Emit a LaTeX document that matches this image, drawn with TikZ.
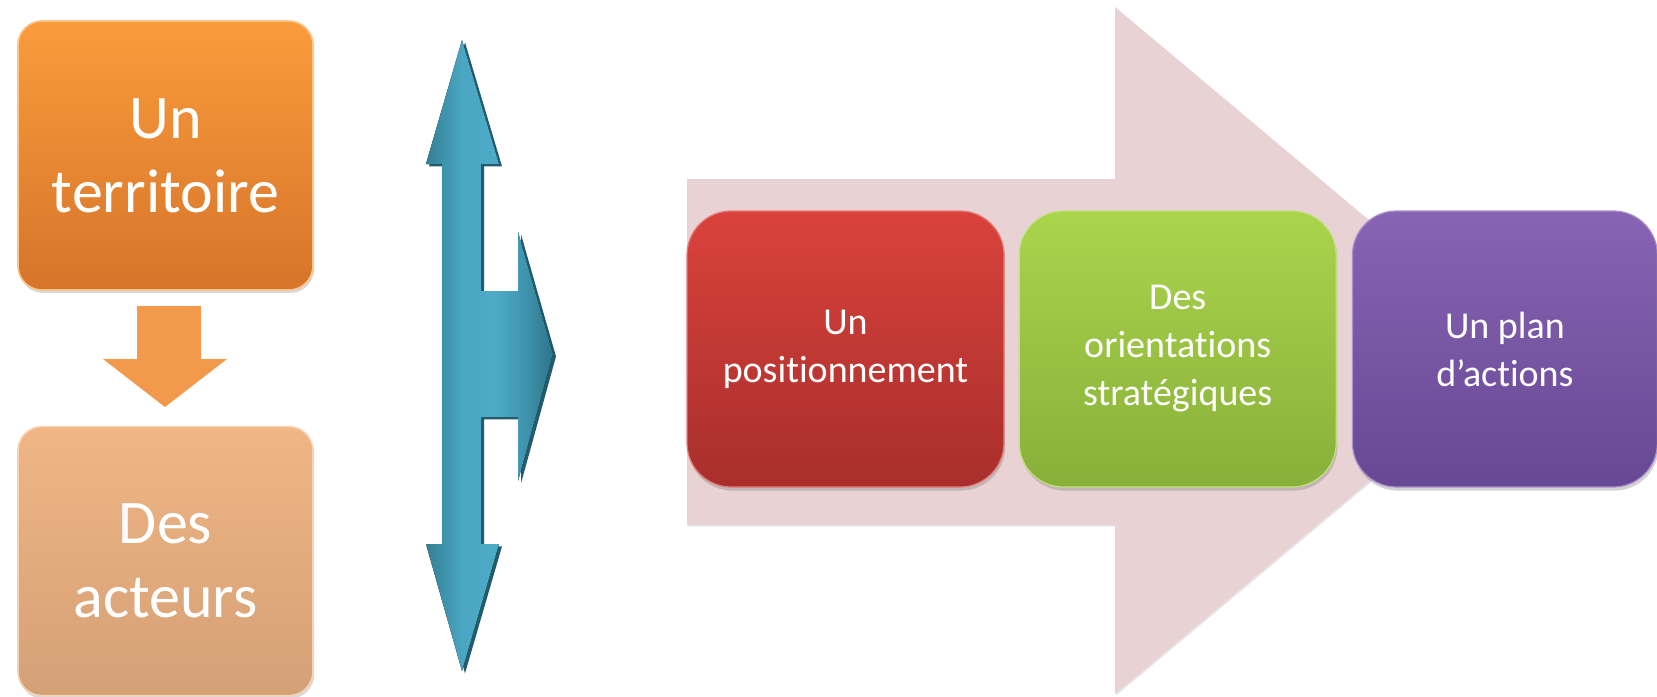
\documentclass[tikz,border=0pt]{standalone}
\usepackage{fontspec}
\setmainfont{Carlito}[Ligatures=NoCommon, RawFeature={-liga;-dlig;-calt}]
\usepackage{tikz}
\usetikzlibrary{positioning,shadows}
\definecolor{TerritoireHaut}{RGB}{250,156,60}
\definecolor{TerritoireBas}{RGB}{214,116,42}
\definecolor{ActeursHaut}{RGB}{240,182,132}
\definecolor{ActeursBas}{RGB}{212,160,118}
\definecolor{FlecheOrange}{RGB}{242,153,76}
\definecolor{BleuOmbre}{RGB}{34,92,108}
\definecolor{Rose}{RGB}{232,210,212}
\definecolor{RougeHaut}{RGB}{218,66,60}
\definecolor{RougeBas}{RGB}{168,46,44}
\definecolor{VertHaut}{RGB}{170,212,76}
\definecolor{VertBas}{RGB}{136,176,58}
\definecolor{VioletHaut}{RGB}{136,100,180}
\definecolor{VioletBas}{RGB}{102,72,148}
% bleu plus clair au milieu, plus sombre sur les bords
\pgfdeclarehorizontalshading{flechebleue}{100bp}{
  rgb(0bp)=(0.20,0.50,0.58); rgb(25bp)=(0.20,0.50,0.58); rgb(39bp)=(0.29,0.65,0.76);
  rgb(52bp)=(0.30,0.67,0.78); rgb(64bp)=(0.25,0.58,0.68); rgb(75bp)=(0.18,0.46,0.54);
  rgb(100bp)=(0.18,0.46,0.54)}
\tikzset{
  bloc/.style={rectangle, rounded corners=12pt, text=white, align=center,
    font=\fontsize{31}{37}\selectfont, minimum width=147.5pt, minimum height=134.5pt,
    drop shadow={shadow xshift=0.6pt, shadow yshift=-1.5pt, opacity=0.3}},
  etape/.style={rectangle, rounded corners=22pt, text=white, align=center,
    font=\fontsize{19}{24}\selectfont, minimum width=158.5pt, minimum height=138pt,
    drop shadow={shadow xshift=0.6pt, shadow yshift=-1.8pt, opacity=0.35}}
}

\begin{document}
\begin{tikzpicture}[x=0.5pt,y=-0.5pt]
\useasboundingbox (0,0) rectangle (1657,696);

%% colonne de gauche
\node[bloc, top color=TerritoireHaut, bottom color=TerritoireBas, draw=TerritoireHaut!60!white, line width=0.8pt] (Territoire) at (165.5,155.5) {Un\\territoire};
\node[bloc, top color=ActeursHaut, bottom color=ActeursBas, draw=ActeursHaut!60!white, line width=0.8pt, below=67.5pt of Territoire] (Acteurs) {Des\\acteurs};
\fill[FlecheOrange] (137,306) -- (201,306) -- (201,359) -- (227,359) -- (165,407) -- (103,359) -- (137,359) -- cycle;

%% fleche bleue
\fill[drop shadow={shadow xshift=1.5pt, shadow yshift=-1.2pt, fill=BleuOmbre, opacity=1},
      shading=flechebleue]
  (462,40) -- (499,164) -- (481,164) -- (481,291) -- (518,291) -- (518,232)
  -- (553,354) -- (518,481) -- (518,417) -- (481,417) -- (481,544) -- (499,544)
  -- (462,671) -- (426,544) -- (442,544) -- (442,164) -- (426,164) -- cycle;

%% grande fleche et les trois etapes
\fill[Rose, drop shadow={shadow xshift=0.5pt, shadow yshift=-0.8pt, opacity=0.2}]
  (687,179) -- (1115,179) -- (1115,7) -- (1525,351) -- (1115,694) -- (1115,525) -- (687,525) -- cycle;

\node[etape, top color=RougeHaut, bottom color=RougeBas, draw=RougeHaut!70!white, line width=0.6pt] (Positionnement) at (845.5,349) {Un\\positionnement};
\node[etape, top color=VertHaut, bottom color=VertBas, draw=VertHaut!70!white, line width=0.6pt, right=7pt of Positionnement] (Orientations) {Des\\orientations\\stratégiques};
\node[etape, top color=VioletHaut, bottom color=VioletBas, draw=VioletHaut!70!white, line width=0.6pt, right=7.5pt of Orientations, minimum width=152.5pt] (Plan) {Un plan\\d’actions};

\end{tikzpicture}
\end{document}
